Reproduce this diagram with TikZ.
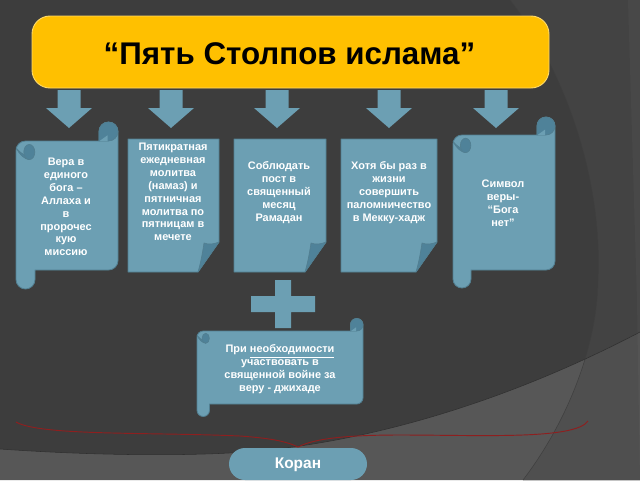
\documentclass[tikz,border=0pt]{standalone}
\usepackage{fontspec}
\setmainfont{Liberation Sans}
\usepackage{tikz}
\usetikzlibrary{calc}

\definecolor{bgdark}{HTML}{3D3D3D}
\definecolor{bgband}{HTML}{434343}
\definecolor{bglight}{HTML}{575757}
\definecolor{bglightb}{HTML}{4F4F4F}
\definecolor{bgline}{HTML}{2F2F2F}
\definecolor{scrollblue}{HTML}{6C9FB3}
\definecolor{scrolledge}{HTML}{527F91}
\definecolor{scrollfold}{HTML}{4F8299}
\definecolor{titlegold}{HTML}{FFC000}
\definecolor{bracered}{HTML}{8E1F1F}

\tikzset{
	blueshape/.style={fill=scrollblue, draw=scrolledge, line width=0.6pt, line join=round},
	foldshape/.style={fill=scrollfold, draw=scrolledge, line width=0.5pt, line join=round},
	boxtext/.style={text=white, font=\bfseries\fontsize{8.2}{9.65}\selectfont, align=center, inner sep=0pt},
}

% #1 left, #2 top, #3 right, #4 bottom, #5 roll width
\newcommand{\scrollshape}[5]{
	\draw[blueshape] ({#1+#5},{#4}) -- ({#3-#5/2},{#4}) arc[start angle=90,end angle=0,radius=#5/2]
		-- (#3,{#2-#5/2}) arc[start angle=0,end angle=-180,radius=#5/2]
		-- ({#3-#5},#2) -- ({#1+#5/2},#2) arc[start angle=-90,end angle=-180,radius=#5/2]
		-- (#1,{#4+#5/2}) arc[start angle=180,end angle=0,radius=#5/2] -- cycle;
	% curl at the top
	\draw[foldshape] ({#3-#5},#2) -- ({#3-#5},{#2-#5/2}) arc[start angle=180,end angle=360,radius=#5/2]
		arc[start angle=0,end angle=90,radius=#5/2] -- cycle;
	\fill[scrollblue] ({#3-#5+0.5},#2) -- ({#3-#5*0.55},{#2-#5*0.3}) -- ({#3-#5*0.55},#2) -- cycle;
	% curl at the left
	\draw[foldshape] (#1,{#2+#5*0.35}) .. controls ({#1+#5*0.2},{#2+#5*0.75}) and ({#1+#5*0.45},{#2+#5*0.95}) .. ({#1+#5*0.7},{#2+#5*0.98})
		-- ({#1+#5*0.7},{#2+#5*0.2}) .. controls ({#1+#5*0.5},{#2+#5*0.3}) and ({#1+#5*0.45},{#2+#5*0.6}) .. ({#1+#5*0.5},{#2+#5*0.75})
		.. controls ({#1+#5*0.35},{#2+#5*0.7}) and ({#1+#5*0.15},{#2+#5*0.55}) .. (#1,{#2+#5*0.35});
	\draw[foldshape] ({#1+#5*0.7},{#2+#5*0.58}) ellipse[x radius=#5*0.29,y radius=#5*0.4];
}
% #1 left, #2 right
\newcommand{\pageshape}[2]{
	\draw[blueshape] (#1,139) -- (#2,139) -- (#2,242) -- ({#2-21},272) -- (#1,272) -- cycle;
	\draw[foldshape] ({#2-21},272) .. controls ({#2-18},262) and ({#2-16},250) .. ({#2-15},243) .. controls ({#2-10},245) and ({#2-5},244) .. (#2,242) -- cycle;
}

\begin{document}
\begin{tikzpicture}[x=0.75pt,y=-0.75pt]
	\useasboundingbox (0,0) rectangle (640,480);
	
	% background
	\fill[bgdark] (0,0) rectangle (640,480);
	\fill[bgband] (510,0) .. controls (565,70) and (603,180) .. (598,280) .. controls (597,350) and (565,425) .. (523,480) -- (640,480) -- (640,0) -- cycle;
	\fill[bglight] (0,449) .. controls (100,456) and (190,456) .. (245,452) .. controls (380,442) and (520,395) .. (640,332) -- (640,480) -- (0,480) -- cycle;
	\begin{scope}
	\clip (598,280) .. controls (597,350) and (565,425) .. (523,480) -- (640,480) -- (640,280) -- cycle;
	\fill[bglightb] (0,449) .. controls (100,456) and (190,456) .. (245,452) .. controls (380,442) and (520,395) .. (640,332) -- (640,480) -- (0,480) -- cycle;
	\end{scope}
	\fill[white, opacity=0.03] (628,0) -- (640,0) -- (640,480) -- (637,300) -- cycle;
	\draw[bgline!60!bglight] (510,0) .. controls (565,70) and (603,180) .. (598,280) .. controls (597,350) and (565,425) .. (523,480);
	\draw[bgline] (0,449) .. controls (100,456) and (190,456) .. (245,452) .. controls (380,442) and (520,395) .. (640,332);
	
	% title
	\draw[fill=titlegold, draw=titlegold!60!white, line width=0.7pt, rounded corners=13.5pt] (32,16) rectangle (549,88);
	\node[font=\bfseries\fontsize{23.5}{27}\selectfont] (title) at (289.5,54) {“Пять Столпов ислама”};
	
	% arrows
	\foreach \ax in {69,171,277,389,496}{
		\begin{scope}[shift={(\ax,0)}]
		\fill[scrollblue] (-11.5,90) -- (11.5,90) -- (11.5,108) -- (23,108) -- (0,128) -- (-23,108) -- (-11.5,108) -- cycle;
		\end{scope}
	}
	
	% the five pillars
	\scrollshape{16}{141}{118}{270}{19}
	\pageshape{128}{219}
	\pageshape{234}{326}
	\pageshape{341}{437}
	\scrollshape{453}{135}{555}{270}{18}
	
	\node[boxtext] (faith) at (66,207) {Вера в\\единого\\бога –\\Аллаха и\\в\\пророчес\\кую\\миссию};
	\node[boxtext] (prayer) at (173,192) {Пятикратная\\ежедневная\\молитва\\(намаз) и\\пятничная\\молитва по\\пятницам в\\мечете};
	\node[boxtext] (fast) at (279,192.5) {Соблюдать\\пост в\\священный\\месяц\\Рамадан};
	\node[boxtext] (hajj) at (389,192.5) {Хотя бы раз в\\жизни\\совершить\\паломничество\\в Мекку-хадж};
	\node[boxtext] (creed) at (503,203) {Символ\\веры-\\“Бога\\нет”};
	
	% plus
	\fill[scrollblue] (275,280) -- (291,280) -- (291,296) -- (315,296) -- (315,312) -- (291,312) -- (291,328) -- (275,328) -- (275,312) -- (251,312) -- (251,296) -- (275,296) -- cycle;
	
	% jihad
	\scrollshape{197}{331}{363}{404}{12.5}
	\node[boxtext] (jihad) at (280,369.5) {При \smash{\underline{необходимости}}\\участвовать в\\священной войне за\\веру - джихаде};
	
	% brace
	\draw[bracered, line width=0.7pt] (16,422) .. controls (40,436) and (150,432) .. (240,436) .. controls (268,438) and (286,441) .. (298,447) .. controls (315,438) and (350,435) .. (400,435) .. controls (480,435) and (575,440) .. (588,421);
	
	% koran
	\fill[scrollblue, rounded corners=12pt] (229,448) rectangle (367,480);
	\node[text=white, font=\bfseries\fontsize{11.6}{14}\selectfont] (koran) at (298,465) {Коран};
\end{tikzpicture}
\end{document}
